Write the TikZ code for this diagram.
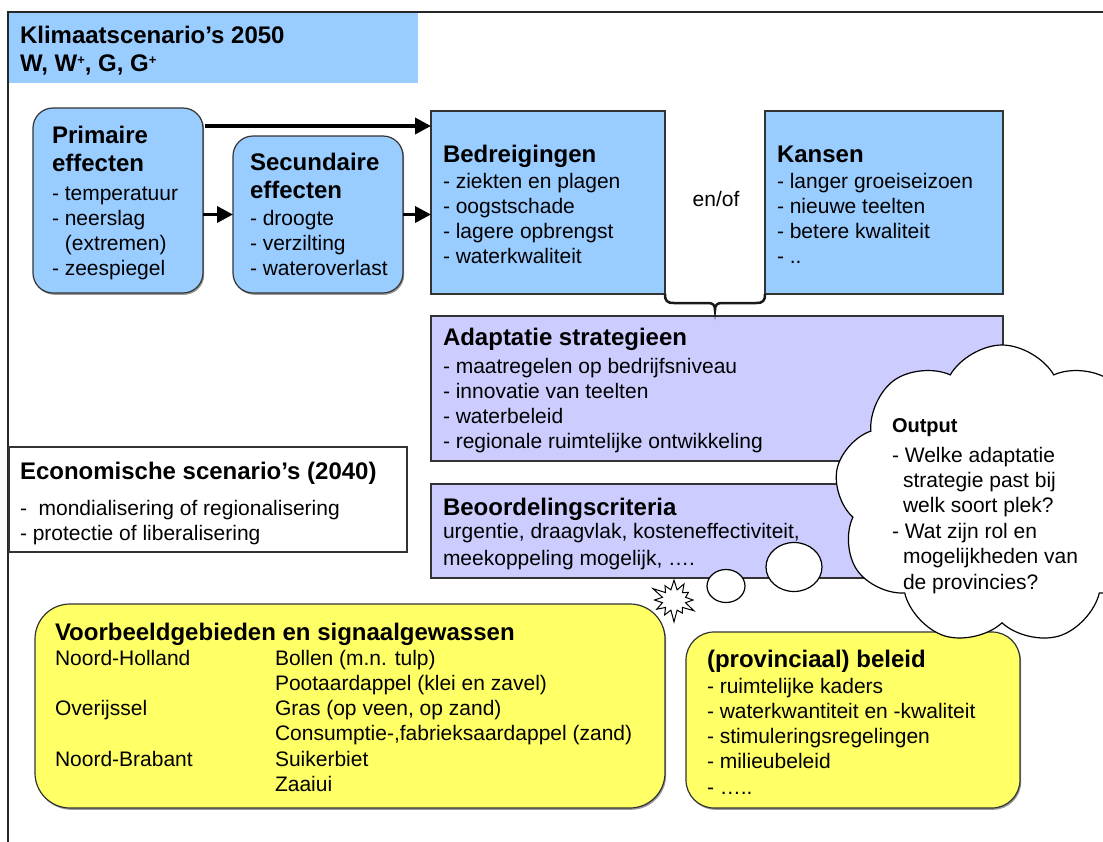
\documentclass[tikz,border=0pt]{standalone}
\usepackage{fontspec}
\setmainfont{Liberation Sans}
\usetikzlibrary{shapes.geometric,shapes.symbols,arrows.meta,shadows,calc}
\definecolor{cblue}{HTML}{99CCFF}
\definecolor{clav}{HTML}{CCCCFF}
\definecolor{cyel}{HTML}{FFFF66}
\definecolor{cedge}{HTML}{333333}
\newcommand\ttl{\fontsize{24}{28.5}\selectfont\bfseries}
\newcommand\bdy{\fontsize{21}{25.3}\selectfont}
\newcommand\lns[1]{\begin{tabular}[t]{@{}l@{}}#1\end{tabular}}
\newcommand\supplus{\raisebox{7pt}{\fontsize{13}{13}\selectfont+}}
\begin{document}
\begin{tikzpicture}[x=1pt,y=-1pt,
  box/.style={anchor=north west, inner sep=0pt, outer sep=0pt, draw=cedge, line width=1.2pt},
  rbox/.style={box, rounded corners=20pt, drop shadow={shadow xshift=1.2pt, shadow yshift=-1.8pt, fill=black!40, opacity=1}},
  txt/.style={anchor=base west, inner sep=0pt, outer sep=0pt},
  arr/.style={line width=3.5pt, -{Triangle[length=16pt,width=16pt]}},
  bubble/.style={draw=black, line width=1.2pt, fill=white, inner sep=0pt}]
\useasboundingbox (0,0) rectangle (1103,841);
\clip (0,0) rectangle (1103,841);
% outer frame
\draw[line width=2pt, black!85] (8,860) -- (8,12) -- (1120,12);
% boxes
\node[box, draw=none, fill=cblue, minimum width=409pt, minimum height=70pt] (clim) at (9,13) {};
\node[rbox, fill=cblue, minimum width=170pt, minimum height=185pt] (prim) at (33,108) {};
\node[rbox, fill=cblue, minimum width=170pt, minimum height=157pt] (sec) at (233,136) {};
\node[box, fill=cblue, minimum width=234pt, minimum height=183pt] (bedr) at (431,111) {};
\node[box, fill=cblue, minimum width=238pt, minimum height=183pt] (kans) at (765,111) {};
\node[box, fill=clav, minimum width=572pt, minimum height=145pt] (adap) at (431,316) {};
\node[box, fill=clav, minimum width=572pt, minimum height=94pt] (beoo) at (431,484) {};
\node[box, fill=white, minimum width=398pt, minimum height=105pt] (econ) at (9,447) {};
\node[rbox, rounded corners=35pt, fill=cyel, minimum width=630pt, minimum height=204pt] (voor) at (35,604) {};
\node[rbox, rounded corners=28pt, fill=cyel, minimum width=334pt, minimum height=176pt] (bel) at (686,632) {};
% arrows
\draw[arr] ($(prim.north east)+(2,18)$) -- ($(bedr.north west)+(0,15)$);
\draw[arr] (sec.west -| prim.east) -- (sec.west);
\draw[arr] (sec.east) -- (sec.east -| bedr.west);
% brace
\draw[line width=2.5pt, black!90] (bedr.south east) .. controls +(0,7) and +(-7,0) .. ++(9,9)
  -- ++(34,0) .. controls +(5,0) and +(0,-5) .. ++(7,7)
  .. controls +(0,-5) and +(-5,0) .. ++(7,-7)
  -- ++(34,0) .. controls +(7,0) and +(0,7) .. (kans.south west);
% cloud and thought bubbles
\node[cloud, bubble, cloud puffs=9, cloud puff arc=120, aspect=1.1, minimum width=335pt, minimum height=300pt] (cloud) at (1002,495) {};
\node[ellipse, bubble, minimum width=38pt, minimum height=33pt] (th1) at (726,586) {};
\node[ellipse, bubble, minimum width=56pt, minimum height=49pt] (th2) at (794,567) {};
\node[starburst, bubble, line width=1pt, starburst points=12, starburst point height=13pt, minimum width=50pt, minimum height=47pt] (burst) at (674,600) {};
% texts
\node[txt] (climT) at (20,43) {\ttl\lns{Klimaatscenario’s 2050\\W, W\supplus, G, G\supplus}};
\node[txt] (primT) at (52,143) {\ttl\lns{Primaire\\effecten}};
\node[txt] (primB) at (52,200) {\bdy\lns{- temperatuur\\- neerslag\\\hspace*{13pt}(extremen)\\- zeespiegel}};
\node[txt] (secT) at (250,170) {\ttl\lns{Secundaire\\effecten}};
\node[txt] (secB) at (250,225) {\bdy\lns{- droogte\\- verzilting\\- wateroverlast}};
\node[txt] (bedrT) at (443,162) {\ttl Bedreigingen};
\node[txt] (bedrB) at (443,188) {\bdy\lns{- ziekten en plagen\\- oogstschade\\- lagere opbrengst\\- waterkwaliteit}};
\node[txt, anchor=base] (enof) at (716,206) {\bdy en/of};
\node[txt] (kansT) at (777,162) {\ttl Kansen};
\node[txt] (kansB) at (777,188) {\bdy\lns{- langer groeiseizoen\\- nieuwe teelten\\- betere kwaliteit\\- ..}};
\node[txt] (adapT) at (443,345) {\ttl Adaptatie strategieen};
\node[txt] (adapB) at (443,373) {\bdy\lns{- maatregelen op bedrijfsniveau\\- innovatie van teelten\\- waterbeleid\\- regionale ruimtelijke ontwikkeling}};
\node[txt] (beooT) at (443,515) {\ttl Beoordelingscriteria};
\node[txt] (beooB) at (443,538) {\fontsize{21}{27}\selectfont\lns{urgentie, draagvlak, kosteneffectiviteit,\\meekoppeling mogelijk, ….}};
\node[txt] (econT) at (20,479) {\ttl Economische scenario’s (2040)};
\node[txt] (econB) at (20,515) {\bdy\lns{-\ \ mondialisering of regionalisering\\- protectie of liberalisering}};
\node[txt] (voorT) at (55,640) {\ttl Voorbeeldgebieden en signaalgewassen};
\node[txt] (voorB) at (55,665) {\bdy\begin{tabular}[t]{@{}p{220pt}@{}l@{}}
Noord-Holland & Bollen (m.n. tulp)\\
 & Pootaardappel (klei en zavel)\\
Overijssel & Gras (op veen, op zand)\\
 & Consumptie-,fabrieksaardappel (zand)\\
Noord-Brabant & Suikerbiet\\
 & Zaaiui\end{tabular}};
\node[txt] (belT) at (707,667) {\ttl (provinciaal) beleid};
\node[txt] (belB) at (707,693) {\bdy\lns{- ruimtelijke kaders\\- waterkwantiteit en -kwaliteit\\- stimuleringsregelingen\\- milieubeleid\\- …..}};
\node[txt] (outT) at (892,432) {\fontsize{20}{24}\selectfont\bfseries Output};
\node[txt] (outB) at (892,462) {\fontsize{21}{25.4}\selectfont\lns{- Welke adaptatie\\\hspace*{11pt}strategie past bij\\\hspace*{11pt}welk soort plek?\\- Wat zijn rol en\\\hspace*{11pt}mogelijkheden van\\\hspace*{11pt}de provincies?}};
\end{tikzpicture}
\end{document}
